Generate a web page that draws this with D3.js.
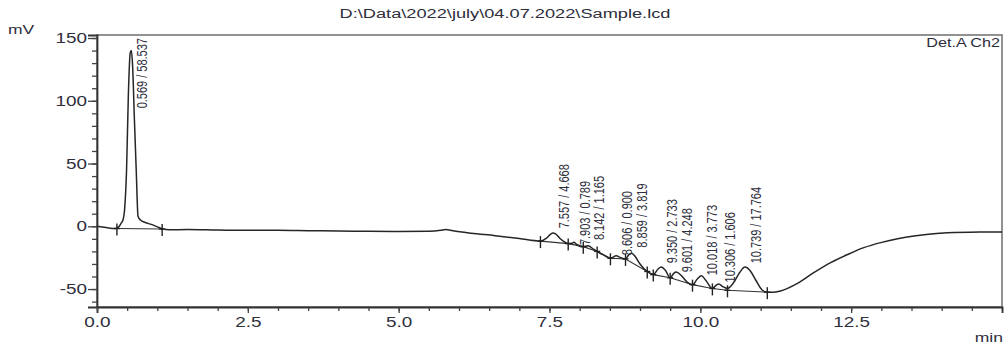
<!DOCTYPE html>
<html>
<head>
<meta charset="utf-8">
<script src="https://cdn.jsdelivr.net/npm/d3@7"></script>
<style>
  body { margin: 0; background: #fff; }
  svg text { font-family: "Liberation Sans", Arial, sans-serif; fill: #2e2e3c; }
</style>
</head>
<body>
<div class="chart"></div>
<script>
// chromatogram trace (min / mV)
const traceTime = [
  0, 0.15, 0.3, 0.36, 0.4, 0.43, 0.46, 0.49, 0.52, 0.55,
  0.569, 0.59, 0.62, 0.65, 0.68, 0.72, 0.8, 0.9, 1.0, 1.08,
  1.2, 1.5, 2.0, 2.5, 3.0, 3.5, 4.0, 4.5, 5.0, 5.5,
  5.7, 5.78, 5.9, 6.2, 6.6, 7.0, 7.35, 7.45, 7.52, 7.557,
  7.6, 7.67, 7.75, 7.81, 7.87, 7.903, 7.95, 8.06, 8.142, 8.22,
  8.29, 8.4, 8.51, 8.606, 8.68, 8.76, 8.81, 8.859, 8.92, 9.0,
  9.12, 9.22, 9.3, 9.35, 9.42, 9.5, 9.56, 9.601, 9.68, 9.78,
  9.87, 9.95, 10.018, 10.09, 10.2, 10.26, 10.306, 10.37, 10.45, 10.55,
  10.65, 10.739, 10.82, 10.92, 11.02, 11.11, 11.2, 11.33, 11.61, 11.88,
  12.16, 12.44, 12.71, 12.99, 13.27, 13.54, 13.82, 14.1, 14.65, 15.0
];
const traceMv = [
  0, -1, -1.8, -0.5, 2.5, 5, 15, 45, 105, 138,
  140, 128, 85, 45, 8, 5, 3, 1.5, -0.5, -2,
  -2.8, -2.6, -3, -3.2, -3.2, -3.5, -3.8, -4, -4.2, -4,
  -3.2, -2.6, -3.6, -5.5, -7.5, -9.8, -11.8, -9.5, -6.2, -5.3,
  -6, -9.5, -12.5, -13.8, -13.6, -12.8, -14.5, -16.2, -15.5, -18,
  -20, -23, -25.5, -23.5, -25, -26, -23, -21.5, -24, -30,
  -36, -38.5, -34, -32.5, -35, -41, -37.5, -36.5, -39, -44.5,
  -46.5, -42, -39.5, -43, -49.5, -47, -46, -48, -49.5, -45,
  -37, -32.5, -35, -43, -50.5, -52.5, -52.6, -51.5, -45.5, -37,
  -29, -22.5, -17, -13, -10, -7.8, -6.2, -5.2, -4.6, -4.5
];

// peak table: retention time / area %
const peakTime = [0.569, 7.557, 7.903, 8.142, 8.606, 8.859, 9.350, 9.601, 10.018, 10.306, 10.739];
const peakArea = ["58.537", "4.668", "0.789", "1.165", "0.900", "3.819", "2.733", "4.248", "3.773", "1.606", "17.764"];
// level (mV) where each label starts
const labelMv = [94, -1.6, -15, -11, -23, -17, -29.5, -36.7, -39, -44.7, -29.5];

// integration marks (peak start / end)
const markTime = [0.33, 1.08, 7.35, 7.81, 8.06, 8.29, 8.51, 8.76, 9.12, 9.22, 9.5, 9.87, 10.2, 10.45, 11.11];
const markMv = [-1.8, -2.2, -11.8, -13.8, -16.2, -20, -25.5, -26, -36, -38.5, -41, -46.5, -49.5, -51, -52.5];
const baseGroups = [[0, 1], [2, 3, 4, 5, 6, 7, 8, 9, 10, 11, 12, 13, 14]];

const xMajor = [0, 2.5, 5, 7.5, 10, 12.5];
const xTickLabels = ["0.0", "2.5", "5.0", "7.5", "10.0", "12.5"];
const yMajor = [-50, 0, 50, 100, 150];
const yTickLabels = ["-50", "0", "50", "100", "150"];

const titleText = "D:\\Data\\2022\\july\\04.07.2022\\Sample.lcd";

const w = 1006, h = 347;
const margin = { top: 35, right: 4, bottom: 40, left: 97 };
const sx = 1.35; // the original text is drawn wide

const svg = d3.select(".chart").append("svg")
  .attr("width", w).attr("height", h);

const x = d3.scaleLinear().domain([0, 15]).range([margin.left, w - margin.right]);
const y = d3.scaleLinear().domain([-64.3, 152.4]).range([h - margin.bottom, margin.top]);

// frame
svg.append("rect")
  .attr("x", x(0)).attr("y", y(152.4))
  .attr("width", x(15) - x(0)).attr("height", y(-64.3) - y(152.4))
  .attr("fill", "none").attr("stroke", "#777").attr("stroke-width", 1.6);

// minor ticks
svg.append("g")
  .attr("transform", `translate(${x(0)},0)`)
  .call(d3.axisLeft(y).tickValues(d3.range(-60, 151, 10)).tickSize(5).tickFormat(""))
  .call(g => g.select(".domain").remove())
  .selectAll("line").attr("stroke", "#444").attr("stroke-width", 1.3);

svg.append("g")
  .attr("transform", `translate(0,${y(-64.3)})`)
  .call(d3.axisBottom(x).tickValues(d3.range(0, 15.01, 0.5)).tickSize(4).tickFormat(""))
  .call(g => g.select(".domain").remove())
  .selectAll("line").attr("stroke", "#444").attr("stroke-width", 1.3);

// major ticks + labels
const yAxis = svg.append("g")
  .attr("transform", `translate(${x(0)},0)`)
  .call(d3.axisLeft(y).tickValues(yMajor).tickSize(9)
    .tickFormat((d, i) => yTickLabels[i]));
yAxis.select(".domain").attr("stroke", "#333").attr("stroke-width", 1.8);
yAxis.selectAll("line").attr("stroke", "#444").attr("stroke-width", 1.3);
yAxis.selectAll("text")
  .attr("x", -10 / sx)
  .attr("transform", `scale(${sx},1)`)
  .style("font-size", "14px")
  .style("font-family", '"Liberation Sans", Arial, sans-serif')
  .attr("fill", "#2e2e3c");

const xAxis = svg.append("g")
  .attr("transform", `translate(0,${y(-64.3)})`)
  .call(d3.axisBottom(x).tickValues(xMajor).tickSize(6)
    .tickFormat((d, i) => xTickLabels[i]));
xAxis.select(".domain").attr("stroke", "#333").attr("stroke-width", 1.8);
xAxis.selectAll("line").attr("stroke", "#444").attr("stroke-width", 1.3);
xAxis.selectAll("text")
  .attr("y", 10)
  .attr("transform", `scale(${sx},1)`)
  .style("font-size", "14px")
  .style("font-family", '"Liberation Sans", Arial, sans-serif')
  .attr("fill", "#2e2e3c");

// wide text helper
const wideText = (px, py, str, size, anchor) =>
  svg.append("text")
    .attr("transform", `translate(${px},${py}) scale(${sx},1)`)
    .attr("text-anchor", anchor)
    .style("font-size", size + "px")
    .text(str);

wideText(505, 18, titleText, 13.5, "middle");
wideText(8, 34, "mV", 13, "start");
wideText(1003, 342, "min", 13, "end");
wideText(1000, 47, "Det.A Ch2", 12, "end");

// integration baselines
const traceData = traceTime.map((t, i) => ({ t: t, v: traceMv[i] }));
baseGroups.forEach(grp => {
  svg.append("path")
    .datum(grp.map(k => ({ t: markTime[k], v: markMv[k] })))
    .attr("fill", "none").attr("stroke", "#333").attr("stroke-width", 1.1)
    .attr("d", d3.line().x(d => x(d.t)).y(d => y(d.v)));
});

// trace
svg.append("path")
  .datum(traceData)
  .attr("fill", "none")
  .attr("stroke", "#262626")
  .attr("stroke-width", 1.5)
  .attr("stroke-linejoin", "round")
  .attr("d", d3.line().x(d => x(d.t)).y(d => y(d.v)).curve(d3.curveMonotoneX));

// start / end marks
const marks = svg.append("g").attr("stroke", "#222").attr("stroke-width", 1.4);
markTime.forEach((t, i) => {
  marks.append("line")
    .attr("x1", x(t)).attr("x2", x(t))
    .attr("y1", y(markMv[i]) - 5).attr("y2", y(markMv[i]) + 7);
  marks.append("line")
    .attr("x1", x(t) - 3).attr("x2", x(t) + 3)
    .attr("y1", y(markMv[i])).attr("y2", y(markMv[i]));
});

// peak labels
peakTime.forEach((t, i) => {
  svg.append("text")
    .attr("transform", `translate(${x(t) + 16},${y(labelMv[i])}) scale(${sx},1) rotate(-90)`)
    .attr("text-anchor", "start")
    .style("font-size", "11px")
    .text(`${t.toFixed(3)} / ${peakArea[i]}`);
});
</script>
</body>
</html>
